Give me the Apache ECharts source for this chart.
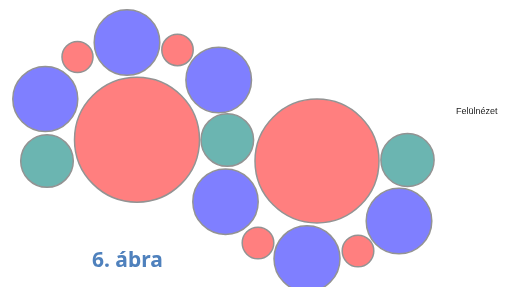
<!DOCTYPE html>
<html>
<head>
<meta charset="utf-8">
<script src="https://cdn.jsdelivr.net/npm/echarts@6/dist/echarts.min.js"></script>
<style>
  html, body { margin: 0; padding: 0; background: #fff; }
  #chart { width: 507px; height: 287px; }
</style>
</head>
<body>
<div id="chart"></div>
<script>
// circles: centre x, centre y, radius (in drawing units)
var redX = [77.5, 177.5, 137, 317, 358, 258];
var redY = [57, 50, 139.7, 161, 251, 243];
var redR = [15.5, 15.7, 62.5, 62, 15.8, 15.8];

var blueX = [127, 218.7, 45.3, 225.5, 399, 307];
var blueY = [42.5, 80, 99, 201.7, 221, 258.7];
var blueR = [32.8, 32.8, 32.5, 32.7, 32.8, 33];

var tealX = [47, 227.3, 407.5];
var tealY = [161, 140, 160];
var tealR = [26.3, 26.3, 26.6];

function pts(xs, ys, rs) {
    return xs.map(function (x, i) { return [x, ys[i], rs[i]]; });
}

var chart = echarts.init(document.getElementById('chart'));

function circles(name, color, xs, ys, rs) {
    return {
        name: name,
        type: 'scatter',
        data: pts(xs, ys, rs),
        symbol: 'circle',
        symbolSize: function (d) { return d[2] * 2; },
        itemStyle: {
            color: color,
            opacity: 1,
            borderColor: '#939393',
            borderWidth: 1.5
        },
        emphasis: { disabled: true },
        silent: true
    };
}

var option = {
    animation: false,
    title: [
        {
            text: '6. ábra',
            left: 87,
            top: 246,
            textStyle: { fontFamily: 'Noto Sans', fontWeight: 'bold', fontSize: 21, color: '#4F81BD' }
        },
        {
            text: 'Felülnézet',
            left: 451,
            top: 102,
            textStyle: { fontFamily: 'Liberation Sans', fontWeight: 'normal', fontSize: 9, color: '#222' }
        }
    ],
    grid: { left: 0, top: 0, width: 507, height: 287 },
    xAxis: { type: 'value', min: 0, max: 507, show: false },
    yAxis: { type: 'value', min: 0, max: 287, inverse: true, show: false },
    series: [
        circles('red', '#FF7F7F', redX, redY, redR),
        circles('blue', '#7F7FFF', blueX, blueY, blueR),
        circles('teal', '#6BB5B1', tealX, tealY, tealR)
    ]
};

chart.setOption(option);
</script>
</body>
</html>
